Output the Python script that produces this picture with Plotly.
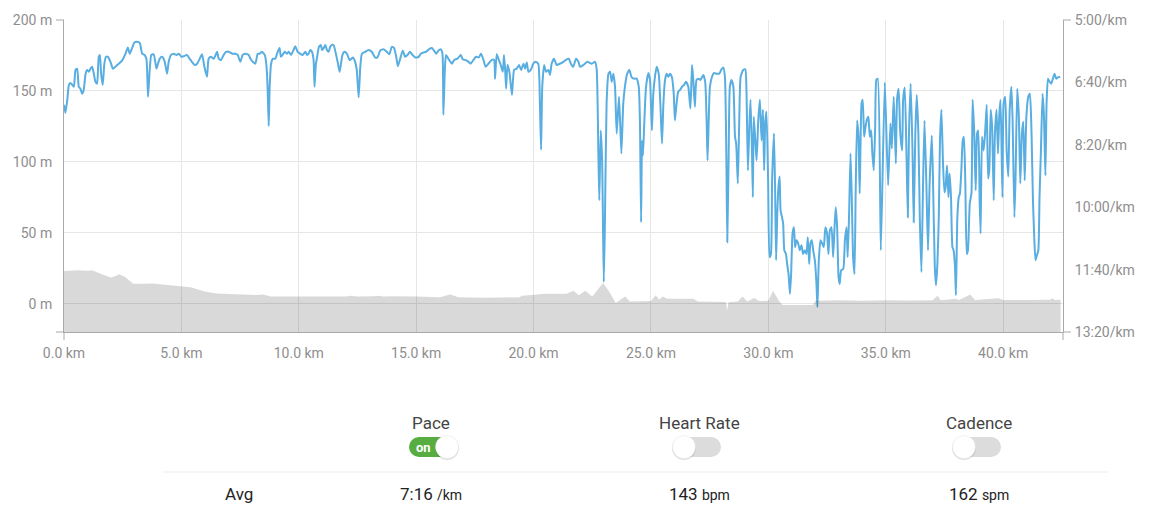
import plotly.graph_objects as go

# ---------------- data ----------------
# pace along the run: (distance km, pace seconds per km)
PACE_0_12KM = [
    (0.00, 436), (0.06, 449), (0.14, 428), (0.21, 404), (0.28, 401), (0.35, 404), (0.42, 407), (0.49, 380),
    (0.56, 378), (0.63, 407), (0.70, 410), (0.77, 418), (0.84, 412), (0.92, 386), (0.99, 380), (1.06, 383),
    (1.13, 378), (1.20, 375), (1.27, 386), (1.34, 399), (1.41, 402), (1.48, 359), (1.53, 356), (1.58, 386),
    (1.65, 404), (1.72, 370), (1.79, 359), (1.87, 359), (1.98, 367), (2.08, 378), (2.19, 375), (2.33, 370),
    (2.43, 367), (2.52, 362), (2.62, 354), (2.72, 344), (2.80, 354), (2.90, 345), (3.00, 336), (3.11, 335),
    (3.23, 337), (3.33, 354), (3.43, 356), (3.51, 362), (3.58, 423), (3.65, 380), (3.72, 356), (3.82, 355),
    (3.94, 378), (3.99, 372), (4.08, 362), (4.18, 359), (4.29, 367), (4.39, 386), (4.46, 367), (4.56, 356),
    (4.67, 354), (4.79, 356), (4.89, 354), (5.00, 359), (5.10, 358), (5.24, 356), (5.35, 362), (5.45, 367),
    (5.57, 372), (5.67, 370), (5.78, 362), (5.88, 355), (5.98, 375), (6.09, 391), (6.16, 362), (6.26, 359),
    (6.38, 362), (6.52, 351), (6.59, 362), (6.69, 364), (6.80, 356), (6.90, 351), (7.01, 351), (7.16, 354),
    (7.30, 354), (7.40, 356), (7.51, 367), (7.61, 356), (7.72, 354), (7.87, 356), (7.94, 362), (8.04, 367),
    (8.15, 370), (8.25, 354), (8.33, 354), (8.43, 351), (8.55, 356), (8.62, 372), (8.67, 407), (8.72, 470),
    (8.76, 407), (8.82, 370), (8.90, 362), (9.00, 362), (9.10, 351), (9.18, 345), (9.24, 359), (9.31, 356),
    (9.40, 351), (9.50, 354), (9.57, 351), (9.67, 356), (9.78, 348), (9.85, 342), (9.95, 351), (10.06, 354),
    (10.16, 356), (10.28, 351), (10.35, 356), (10.42, 354), (10.49, 348), (10.56, 351), (10.63, 364),
    (10.67, 407), (10.73, 370), (10.77, 362), (10.86, 343), (10.94, 340), (10.99, 348), (11.06, 345),
    (11.13, 340), (11.20, 348), (11.27, 351), (11.34, 343), (11.41, 340), (11.48, 340), (11.58, 354),
    (11.67, 370), (11.74, 383), (11.79, 372), (11.86, 356), (11.94, 351), (12.05, 354), (12.16, 364),
]
PACE_12_22KM = [
    (12.19, 364), (12.30, 360), (12.40, 367), (12.47, 380), (12.55, 424), (12.62, 375), (12.69, 354),
    (12.83, 351), (12.97, 348), (13.11, 351), (13.25, 360), (13.35, 360), (13.47, 349), (13.61, 347),
    (13.75, 351), (13.86, 355), (13.96, 343), (14.06, 345), (14.15, 359), (14.22, 374), (14.32, 362),
    (14.43, 349), (14.53, 359), (14.63, 356), (14.74, 351), (14.84, 356), (14.96, 360), (15.10, 359),
    (15.20, 354), (15.31, 352), (15.42, 351), (15.54, 347), (15.67, 345), (15.76, 349), (15.85, 354),
    (15.95, 349), (16.05, 347), (16.12, 354), (16.16, 452), (16.22, 380), (16.27, 356), (16.37, 362),
    (16.52, 370), (16.62, 364), (16.76, 362), (16.90, 356), (16.98, 363), (17.08, 364), (17.23, 367),
    (17.32, 370), (17.44, 364), (17.55, 359), (17.67, 360), (17.76, 354), (17.86, 363), (17.96, 375),
    (18.08, 370), (18.22, 364), (18.32, 364), (18.36, 394), (18.43, 355), (18.52, 364), (18.60, 372),
    (18.69, 383), (18.74, 356), (18.79, 380), (18.83, 410), (18.89, 372), (18.97, 383), (19.08, 420),
    (19.17, 380), (19.28, 378), (19.38, 372), (19.47, 380), (19.57, 370), (19.64, 378), (19.71, 368),
    (19.78, 383), (19.88, 380), (19.99, 370), (20.09, 367), (20.20, 370), (20.27, 434), (20.32, 508),
    (20.37, 407), (20.45, 372), (20.53, 383), (20.63, 380), (20.70, 388), (20.77, 370), (20.87, 362),
    (20.98, 372), (21.13, 370), (21.27, 367), (21.38, 364), (21.50, 362), (21.59, 370), (21.69, 375),
    (21.81, 362), (21.91, 367),
]
PACE_22_35KM = [
    (21.98, 375), (22.12, 372), (22.29, 367), (22.48, 370), (22.62, 367), (22.69, 380), (22.76, 514),
    (22.80, 589), (22.86, 477), (22.92, 525), (22.99, 720), (23.04, 621), (23.11, 434), (23.19, 386),
    (23.26, 383), (23.33, 399), (23.40, 386), (23.47, 407), (23.54, 482), (23.64, 423), (23.74, 514),
    (23.82, 434), (23.89, 407), (23.99, 386), (24.08, 380), (24.18, 392), (24.29, 394), (24.39, 394),
    (24.48, 407), (24.53, 461), (24.58, 624), (24.62, 493), (24.66, 517), (24.72, 461), (24.79, 407),
    (24.89, 385), (24.96, 396), (25.00, 434), (25.04, 477), (25.10, 418), (25.17, 391), (25.24, 375),
    (25.33, 386), (25.40, 434), (25.47, 498), (25.53, 434), (25.60, 396), (25.67, 386), (25.74, 391),
    (25.81, 386), (25.89, 391), (25.97, 418), (26.02, 461), (26.09, 434), (26.16, 415), (26.24, 412),
    (26.32, 407), (26.41, 404), (26.49, 399), (26.59, 407), (26.68, 442), (26.75, 372), (26.80, 394),
    (26.87, 439), (26.94, 396), (27.03, 394), (27.11, 396), (27.23, 388), (27.31, 399), (27.37, 461),
    (27.41, 525), (27.46, 461), (27.51, 407), (27.60, 391), (27.68, 385), (27.80, 386), (27.91, 386),
    (27.99, 380), (28.08, 376), (28.15, 391), (28.21, 514), (28.25, 656), (28.31, 514), (28.36, 407),
    (28.43, 396), (28.51, 407), (28.58, 487), (28.63, 498), (28.70, 562), (28.76, 461), (28.82, 391),
    (28.93, 380), (29.02, 379), (29.07, 418), (29.13, 541), (29.19, 471), (29.24, 428), (29.30, 503),
    (29.34, 584), (29.38, 455), (29.46, 503), (29.50, 525), (29.57, 461), (29.64, 428), (29.71, 493),
    (29.77, 444), (29.82, 541), (29.87, 461), (29.92, 447), (29.99, 557), (30.05, 680), (30.11, 675),
    (30.16, 557), (30.24, 482), (30.29, 578), (30.33, 685), (30.38, 610), (30.43, 568), (30.48, 551),
    (30.52, 605), (30.58, 616), (30.63, 626), (30.68, 669), (30.75, 675), (30.80, 691), (30.86, 707),
    (30.92, 739), (30.97, 707), (31.03, 642), (31.09, 632), (31.14, 664), (31.20, 653), (31.27, 658),
    (31.34, 669), (31.41, 661), (31.48, 675), (31.55, 669), (31.62, 675), (31.68, 648), (31.74, 691),
    (31.79, 658), (31.85, 653), (31.91, 669), (31.98, 685), (32.05, 723), (32.09, 760), (32.15, 685),
    (32.22, 653), (32.29, 658), (32.36, 664), (32.43, 632), (32.50, 642), (32.56, 675), (32.62, 637),
    (32.69, 632), (32.76, 680), (32.82, 632), (32.87, 600), (32.93, 632), (32.99, 712), (33.04, 723),
    (33.10, 701), (33.19, 699), (33.26, 653), (33.33, 632), (33.38, 680), (33.44, 610), (33.50, 514),
    (33.55, 578), (33.61, 680), (33.67, 707), (33.72, 573), (33.78, 461), (33.84, 487), (33.89, 578),
    (33.97, 434), (34.02, 428), (34.08, 487), (34.14, 471), (34.21, 458), (34.26, 455), (34.32, 487),
    (34.38, 477), (34.43, 514), (34.49, 541), (34.55, 471), (34.60, 396), (34.66, 394),
]
PACE_35_42KM = [
    (34.79, 669), (34.96, 400), (35.10, 565), (35.20, 466), (35.26, 506), (35.34, 423), (35.43, 530),
    (35.48, 428), (35.55, 410), (35.62, 482), (35.70, 509), (35.74, 428), (35.81, 408), (35.88, 509),
    (35.94, 616), (35.99, 482), (36.06, 402), (36.14, 509), (36.19, 624), (36.26, 482), (36.32, 420),
    (36.39, 482), (36.45, 616), (36.52, 704), (36.59, 562), (36.65, 461), (36.73, 562), (36.80, 669),
    (36.87, 562), (36.96, 485), (37.01, 551), (37.09, 696), (37.14, 725), (37.20, 691), (37.26, 616),
    (37.31, 493), (37.37, 444), (37.44, 530), (37.50, 576), (37.55, 568), (37.61, 533), (37.67, 584),
    (37.72, 546), (37.78, 584), (37.84, 664), (37.89, 669), (37.95, 696), (37.99, 741), (38.05, 616),
    (38.11, 584), (38.16, 578), (38.22, 541), (38.28, 493), (38.33, 487), (38.39, 562), (38.45, 675),
    (38.50, 669), (38.58, 594), (38.65, 578), (38.70, 428), (38.77, 482), (38.83, 573), (38.89, 482),
    (38.94, 477), (39.00, 589), (39.04, 642), (39.10, 487), (39.17, 509), (39.23, 482), (39.30, 436),
    (39.36, 554), (39.41, 541), (39.47, 444), (39.53, 471), (39.60, 589), (39.65, 482), (39.72, 444),
    (39.78, 514), (39.84, 450), (39.89, 428), (39.97, 584), (40.02, 434), (40.09, 423), (40.15, 509),
    (40.22, 551), (40.28, 444), (40.35, 407), (40.40, 455), (40.48, 616), (40.53, 551), (40.60, 410),
    (40.67, 455), (40.73, 562), (40.80, 482), (40.86, 463), (40.92, 557), (40.99, 455), (41.07, 423),
    (41.14, 418), (41.21, 482), (41.27, 589), (41.33, 653), (41.38, 685), (41.44, 677), (41.50, 669),
    (41.55, 584), (41.61, 509), (41.68, 418), (41.74, 455), (41.80, 549), (41.85, 434), (41.91, 394),
    (41.98, 399), (42.05, 402), (42.12, 394), (42.19, 386), (42.26, 394), (42.33, 392), (42.43, 391),
]

# elevation profile: (distance km, metres)
ELEVATION = [
    (0.0, 23), (0.6, 23.5), (1.0, 23.2), (1.2, 23.5), (1.55, 21), (1.8, 19.5), (2.0, 18.5), (2.2, 19.5),
    (2.35, 20.7), (2.6, 18.8), (2.95, 14), (3.4, 14), (3.8, 14.2), (4.1, 13.6), (4.4, 13), (4.7, 12.5),
    (5.0, 12.3), (5.4, 11.5), (5.7, 10), (6.0, 8.5), (6.5, 7.2), (7.5, 6.6), (8.2, 6.1), (8.5, 6.5),
    (8.8, 5), (10.0, 5), (11.5, 4.8), (12.0, 5), (12.2, 5.6), (12.5, 5), (13.2, 5.2), (13.4, 5.6),
    (13.6, 5), (14.0, 5.2), (15.0, 5), (16.0, 4.5), (16.45, 6.5), (16.8, 4.5), (18.0, 4.2), (19.4, 4.5),
    (19.5, 5.5), (20.0, 6), (20.5, 7), (21.4, 7), (21.7, 9), (21.93, 6), (22.2, 9), (22.5, 5),
    (22.96, 14.6), (23.2, 9), (23.5, 0.5), (23.9, 5), (24.1, 1.5), (25.0, 1.8), (25.2, 6), (25.35, 3),
    (25.5, 5), (25.7, 3.5), (26.8, 3.5), (27.0, 1.5), (28.2, 1.2), (28.25, -5), (28.3, 1), (28.7, 1.5),
    (28.9, 5), (29.1, 1.5), (29.4, 4), (29.6, 1.8), (30.0, 2), (30.2, 9), (30.45, 2), (30.6, -1),
    (31.9, -1), (32.0, 2), (33.0, 2.3), (34.0, 2), (35.0, 2.4), (36.0, 2.2), (37.0, 2.3), (37.2, 5.5),
    (37.35, 2.3), (38.0, 3.5), (38.1, 2.3), (38.6, 6.5), (38.8, 2.5), (39.8, 3.8), (40.0, 2.5),
    (41.0, 2.6), (42.0, 2.8), (42.1, 3.8), (42.2, 2.6), (42.45, 2.8),
]

X_RANGE = [0, 42.55]
X_TICKS = [0, 5, 10, 15, 20, 25, 30, 35, 40]
X_TICK_TEXT = ["0.0 km", "5.0 km", "10.0 km", "15.0 km", "20.0 km", "25.0 km", "30.0 km", "35.0 km", "40.0 km"]
ELEV_RANGE = [-20, 200]
ELEV_TICKS = [0, 50, 100, 150, 200]
ELEV_TICK_TEXT = ["0 m", "50 m", "100 m", "150 m", "200 m"]
PACE_RANGE = [800, 300]
PACE_TICKS = [300, 400, 500, 600, 700, 800]
PACE_TICK_TEXT = ["5:00/km", "6:40/km", "8:20/km", "10:00/km", "11:40/km", "13:20/km"]

METRICS = ["Pace", "Heart Rate", "Cadence"]
METRIC_ON = [True, False, False]
AVG_VALUES = ["7:16", "143", "162"]
AVG_UNITS = ["/km", "bpm", "spm"]

# ---------------- layout constants ----------------
PAGE_OFFSET = 8          # default body margin of the html page
W, H = 1157 - PAGE_OFFSET, 512 - PAGE_OFFSET
ML, MR, MT, MB = 56, 94, 12, 180
PW, PH = W - ML - MR, H - MT - MB
FONT = "Roboto, 'Open Sans', sans-serif"
BLUE = "#58ade1"
AXIS_GREY = "#a9a9a9"
GRID = "#e6e6e6"
TICK_FONT = dict(family=FONT, size=14, color="#8e8e8e")


def px(x):
    """screen pixel x -> paper coordinate"""
    return (x - PAGE_OFFSET - ML) / PW


def py(y):
    """screen pixel y -> paper coordinate"""
    return (H - MB - (y - PAGE_OFFSET)) / PH


pace_pts = PACE_0_12KM + PACE_12_22KM + PACE_22_35KM + PACE_35_42KM
pace_km = [p[0] for p in pace_pts]
pace_s = [p[1] for p in pace_pts]
elev_km = [p[0] for p in ELEVATION]
elev_m = [p[1] for p in ELEVATION]

fig = go.Figure()
fig.add_trace(go.Scatter(x=pace_km, y=pace_s, mode="lines", yaxis="y",
                         line=dict(color=BLUE, width=2, shape="spline", smoothing=0.5),
                         hoverinfo="skip"))
fig.add_trace(go.Scatter(x=[elev_km[0], elev_km[-1]], y=[ELEV_RANGE[0], ELEV_RANGE[0]], mode="lines",
                         yaxis="y2", line=dict(width=0, color="rgba(0,0,0,0)"), hoverinfo="skip"))
fig.add_trace(go.Scatter(x=elev_km, y=elev_m, mode="lines", yaxis="y2", fill="tonexty",
                         fillcolor="rgba(0,0,0,0.15)", line=dict(width=0, color="rgba(0,0,0,0)"),
                         hoverinfo="skip"))

shapes = []
tl = 8
# end ticks of the axes
for yy in (0, 1):
    shapes.append(dict(type="line", xref="paper", yref="paper", x0=-tl / PW, x1=0, y0=yy, y1=yy,
                       line=dict(color=AXIS_GREY, width=1)))
    shapes.append(dict(type="line", xref="paper", yref="paper", x0=1, x1=1 + tl / PW, y0=yy, y1=yy,
                       line=dict(color=AXIS_GREY, width=1)))
for xx in (0, 1):
    shapes.append(dict(type="line", xref="paper", yref="paper", x0=xx, x1=xx, y0=0, y1=-tl / PH,
                       line=dict(color=AXIS_GREY, width=1)))

# separator line of the summary table
shapes.append(dict(type="line", xref="paper", yref="paper", x0=px(163), x1=px(1108), y0=py(472), y1=py(472),
                   line=dict(color="#ececec", width=1)))


def circle(cx, cy, r, fill, line_color=None, lw=0):
    return dict(type="circle", xref="paper", yref="paper", x0=px(cx - r), x1=px(cx + r),
                y0=py(cy + r), y1=py(cy - r), fillcolor=fill,
                line=dict(color=line_color or fill, width=lw))


annotations = []
centers = [431, 699, 979]
for i, name in enumerate(METRICS):
    cx = centers[i]
    annotations.append(dict(x=px(cx), y=py(423), xref="paper", yref="paper", text=name, showarrow=False,
                            xanchor="center", yanchor="middle",
                            font=dict(family=FONT, size=17, color="#444444")))
    # toggle switch
    if METRIC_ON[i]:
        left, right = cx - 22, cx + 27
    else:
        left, right = cx - 26, cx + 22
    cy, rr = 447, 10
    col = "#57ad3f" if METRIC_ON[i] else "#dcdcdc"
    shapes.append(dict(type="rect", xref="paper", yref="paper", x0=px(left + rr), x1=px(right - rr),
                       y0=py(cy + rr), y1=py(cy - rr), fillcolor=col, line=dict(width=0)))
    shapes.append(circle(left + rr, cy, rr, col))
    shapes.append(circle(right - rr, cy, rr, col))
    kx = right - 11 if METRIC_ON[i] else left + 11
    shapes.append(circle(kx, cy + 1, 12, "rgba(0,0,0,0.13)"))
    shapes.append(circle(kx, cy, 11.5, "#ffffff", "#e2e2e2", 0.5))
    if METRIC_ON[i]:
        annotations.append(dict(x=px(left + 14), y=py(cy), xref="paper", yref="paper", text="<b>on</b>",
                                showarrow=False, xanchor="center", yanchor="middle",
                                font=dict(family=FONT, size=13, color="#ffffff")))
    annotations.append(dict(x=px(cx), y=py(494), xref="paper", yref="paper",
                            text=f"{AVG_VALUES[i]} <span style='font-size:14px'>{AVG_UNITS[i]}</span>",
                            showarrow=False, xanchor="center", yanchor="middle",
                            font=dict(family=FONT, size=17, color="#222222")))
annotations.append(dict(x=px(239), y=py(494), xref="paper", yref="paper", text="Avg", showarrow=False,
                        xanchor="center", yanchor="middle", font=dict(family=FONT, size=17, color="#222222")))

axis_common = dict(zeroline=False, showline=True, linecolor=AXIS_GREY, linewidth=1, ticks="outside",
                   ticklen=8, tickcolor="rgba(0,0,0,0)", tickfont=TICK_FONT, fixedrange=True,
                   automargin=False)

fig.update_layout(
    template="none",
    width=W, height=H, margin=dict(l=ML, r=MR, t=MT, b=MB, autoexpand=False),
    paper_bgcolor="white", plot_bgcolor="white", showlegend=False, hovermode=False,
    xaxis=dict(range=X_RANGE, tickvals=X_TICKS, ticktext=X_TICK_TEXT, showgrid=True, gridcolor=GRID,
               gridwidth=1, **axis_common),
    yaxis=dict(range=PACE_RANGE, tickvals=PACE_TICKS, ticktext=PACE_TICK_TEXT, side="right",
               showgrid=False, **axis_common),
    yaxis2=dict(range=ELEV_RANGE, tickvals=ELEV_TICKS, ticktext=ELEV_TICK_TEXT, side="left", overlaying="y",
                showgrid=True, gridcolor=GRID, gridwidth=1, **axis_common),
    shapes=shapes, annotations=annotations,
)

fig.write_html("out.html", config={"displayModeBar": False})
